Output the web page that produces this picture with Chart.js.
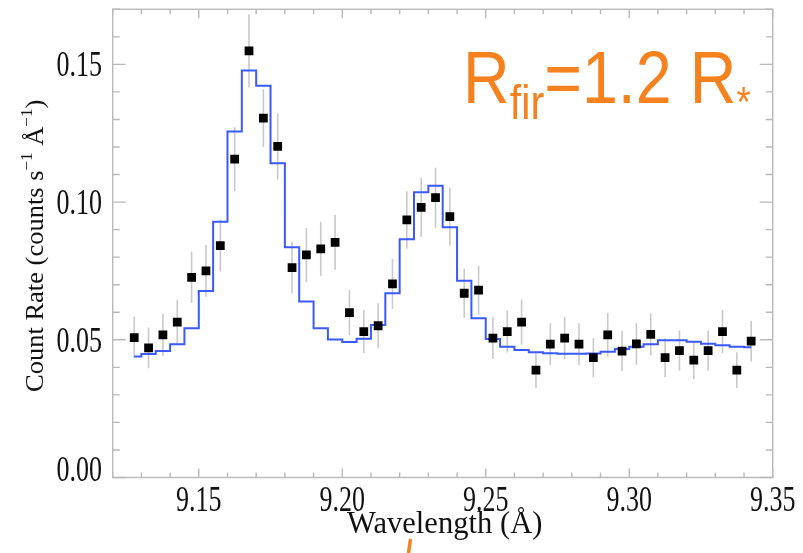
<!DOCTYPE html>
<html>
<head>
<meta charset="utf-8">
<script src="https://cdn.jsdelivr.net/npm/chart.js@4.4.1/dist/chart.umd.min.js"></script>
<style>
  html, body { margin: 0; padding: 0; background: #fff; }
  #plot { display: block; }
</style>
</head>
<body>
<canvas id="plot" width="803" height="553"></canvas>
<script>
'use strict';

// Measured spectrum: bin centres (Å), count rate, 1-sigma errors, and fitted model
const wavelength = [
  9.1275, 9.1325, 9.1375, 9.1425, 9.1475, 9.1525, 9.1575, 9.1625, 9.1675, 9.1725, 9.1775,
  9.1825, 9.1875, 9.1925, 9.1975, 9.2025, 9.2075, 9.2125, 9.2175, 9.2225, 9.2275, 9.2325,
  9.2375, 9.2425, 9.2475, 9.2525, 9.2575, 9.2625, 9.2675, 9.2725, 9.2775, 9.2825, 9.2875,
  9.2925, 9.2975, 9.3025, 9.3075, 9.3125, 9.3175, 9.3225, 9.3275, 9.3325, 9.3375, 9.3425
];
const rate = [
  0.0508, 0.0471, 0.0518, 0.0564, 0.0727, 0.0750, 0.0842, 0.1156, 0.1549, 0.1305, 0.1202,
  0.0762, 0.0808, 0.0830, 0.0854, 0.0599, 0.0530, 0.0551, 0.0703, 0.0935, 0.0981, 0.1016,
  0.0947, 0.0669, 0.0680, 0.0506, 0.0530, 0.0564, 0.0390, 0.0484, 0.0506, 0.0484, 0.0435,
  0.0518, 0.0459, 0.0485, 0.0520, 0.0435, 0.0461, 0.0426, 0.0461, 0.0530, 0.0390, 0.0495
];
const rateErr = [
  0.0076, 0.0074, 0.0077, 0.0080, 0.0093, 0.0094, 0.0094, 0.0116, 0.0133, 0.0105, 0.0120,
  0.0094, 0.0098, 0.0098, 0.0100, 0.0082, 0.0078, 0.0082, 0.0091, 0.0104, 0.0107, 0.0109,
  0.0105, 0.0089, 0.0089, 0.0076, 0.0076, 0.0082, 0.0065, 0.0076, 0.0076, 0.0076, 0.0071,
  0.0080, 0.0073, 0.0076, 0.0076, 0.0071, 0.0073, 0.0069, 0.0073, 0.0078, 0.0065, 0.0074
];
const model = [
  0.0439, 0.0448, 0.0459, 0.0484, 0.0542, 0.0677, 0.0929, 0.1256, 0.1478, 0.1422, 0.1141,
  0.0836, 0.0639, 0.0542, 0.0501, 0.0492, 0.0504, 0.0554, 0.0669, 0.0865, 0.1036, 0.1059,
  0.0909, 0.0714, 0.0578, 0.0503, 0.0475, 0.0463, 0.0455, 0.0451, 0.0449, 0.0449, 0.0450,
  0.0457, 0.0467, 0.0475, 0.0484, 0.0498, 0.0498, 0.0493, 0.0486, 0.0480, 0.0475, 0.0473
];

const xTickLabels = ['9.15', '9.20', '9.25', '9.30', '9.35'];
const yTickLabels = ['0.00', '0.05', '0.10', '0.15'];
const xTitle = 'Wavelength (Å)';
const yTitle = ['Count Rate (counts s', '−1', ' Å', '−1', ')'];

const X_MIN = 9.12, X_MAX = 9.35, Y_MIN = 0, Y_MAX = 0.17;
const FRAME = '#b9b9b9';
const SERIF = '"Liberation Serif", "DejaVu Serif", serif';
const SANS = '"Liberation Sans", Arial, sans-serif';
const ORANGE = '#f6821f';

// text with an independent horizontal / vertical stretch
function stretchText(ctx, str, x, y, size, family, sx, sy, align, base) {
  ctx.save();
  ctx.translate(x, y);
  ctx.scale(sx, sy);
  ctx.font = size + 'px ' + family;
  ctx.textAlign = align || 'left';
  ctx.textBaseline = base || 'alphabetic';
  ctx.fillText(str, 0, 0);
  const w = ctx.measureText(str).width * sx;
  ctx.restore();
  return w;
}

const axesPlugin = {
  id: 'idlAxes',
  beforeDatasetsDraw(chart) {
    const { ctx, chartArea: a, scales: { x, y } } = chart;
    ctx.save();
    // error bars sit behind the model and the points
    ctx.strokeStyle = '#c9c9c9';
    ctx.lineWidth = 1.6;
    wavelength.forEach((w, i) => {
      const px = x.getPixelForValue(w);
      ctx.beginPath();
      ctx.moveTo(px, y.getPixelForValue(rate[i] + rateErr[i]));
      ctx.lineTo(px, y.getPixelForValue(rate[i] - rateErr[i]));
      ctx.stroke();
    });
    // box
    ctx.strokeStyle = FRAME;
    ctx.lineWidth = 1.4;
    ctx.strokeRect(a.left, a.top, a.right - a.left, a.bottom - a.top);
    // ticks point inward on all four sides, minor every 0.01
    ctx.beginPath();
    for (let k = 912; k <= 935; k++) {
      const px = x.getPixelForValue(k / 100);
      const len = k % 5 === 0 ? 9 : 5;
      ctx.moveTo(px, a.bottom); ctx.lineTo(px, a.bottom - len);
      ctx.moveTo(px, a.top); ctx.lineTo(px, a.top + len);
    }
    for (let k = 0; k <= 17; k++) {
      const py = y.getPixelForValue(k / 100);
      const len = k % 5 === 0 ? 13 : 7;
      ctx.moveTo(a.left, py); ctx.lineTo(a.left + len, py);
      ctx.moveTo(a.right, py); ctx.lineTo(a.right - len, py);
    }
    ctx.stroke();
    ctx.restore();
  },
  afterDraw(chart) {
    const { ctx, chartArea: a, scales: { x, y } } = chart;
    ctx.save();
    ctx.fillStyle = '#111';
    xTickLabels.forEach((t) => {
      stretchText(ctx, t, x.getPixelForValue(+t), 511, 26, SERIF, 1, 1.36, 'center');
    });
    yTickLabels.forEach((t) => {
      let py = y.getPixelForValue(+t) + 12;
      if (+t === Y_MIN) py -= 9;
      stretchText(ctx, t, 102, py, 26, SERIF, 1, 1.36, 'right');
    });
    stretchText(ctx, xTitle, (a.left + a.right) / 2 + 2, 533, 30, SERIF, 1.02, 1.08, 'center');

    // rotated y title with superscripts
    ctx.translate(43, 392);
    ctx.rotate(-Math.PI / 2);
    let cx = 0;
    yTitle.forEach((part, i) => {
      const sup = i % 2 === 1;
      cx += stretchText(ctx, part, cx, sup ? -11 : 0, sup ? 16 : 25, SERIF, 1.06, 1.0, 'left');
    });
    ctx.restore();

    // annotation
    ctx.save();
    ctx.fillStyle = ORANGE;
    let ax = 463;
    ax += stretchText(ctx, 'R', ax, 103, 64, SANS, 1.01, 1.17);
    ax += stretchText(ctx, 'fir', ax, 119, 41, SANS, 1.01, 1.17);
    ax += stretchText(ctx, '=1.2 R', ax, 103, 64, SANS, 1.01, 1.17);
    stretchText(ctx, '*', ax, 116, 36, SANS, 1.01, 1.17);
    // clipped stroke at the page bottom
    ctx.strokeStyle = ORANGE;
    ctx.lineWidth = 3.5;
    ctx.beginPath();
    ctx.moveTo(410.5, 539); ctx.lineTo(408.5, 553);
    ctx.stroke();
    ctx.restore();
  }
};

new Chart(document.getElementById('plot'), {
  type: 'line',
  data: {
    datasets: [
      {
        label: 'data',
        data: wavelength.map((w, i) => ({ x: w, y: rate[i] })),
        showLine: false,
        pointStyle: 'rect',
        pointRadius: 6.2,
        pointBackgroundColor: '#000',
        pointBorderColor: '#000',
        pointBorderWidth: 0
      },
      {
        label: 'model',
        data: wavelength.map((w, i) => ({ x: w, y: model[i] })),
        stepped: 'middle',
        borderColor: '#3a5aff',
        borderWidth: 2,
        pointRadius: 0,
        fill: false
      }
    ]
  },
  options: {
    responsive: false,
    devicePixelRatio: 1,
    animation: false,
    events: [],
    layout: { padding: { left: 112.7, right: 30.3, top: 9.3, bottom: 75.5 } },
    scales: {
      x: { type: 'linear', min: X_MIN, max: X_MAX, display: false },
      y: { type: 'linear', min: Y_MIN, max: Y_MAX, display: false }
    },
    plugins: { legend: { display: false }, tooltip: { enabled: false } }
  },
  plugins: [axesPlugin]
});
</script>
</body>
</html>
